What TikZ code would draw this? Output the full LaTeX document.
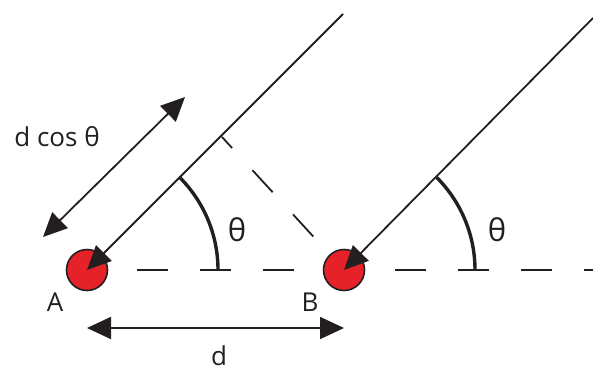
\documentclass[tikz,border=0pt]{standalone}
\usepackage{fontspec}
\setmainfont{Open Sans}
\usetikzlibrary{arrows.meta}
\definecolor{dotred}{HTML}{E52228}
\definecolor{ink}{HTML}{231F20}
\begin{document}
\begin{tikzpicture}[x=1pt,y=1pt,
  thinline/.style={line width=1.8pt, draw=ink},
  tipend/.style={thinline, -{Triangle[length=24pt,width=22pt]}},
  twotips/.style={thinline, {Triangle[length=24pt,width=22pt]}-{Triangle[length=24pt,width=22pt]}},
  source/.style={circle, draw=ink, line width=1.6pt, fill=dotred, minimum size=41pt, inner sep=0pt},
  lab/.style={font=\fontsize{26}{26}\selectfont, inner sep=0pt, text=ink},
  anglab/.style={font=\fontsize{31}{31}\selectfont, inner sep=0pt, text=ink},
  angarc/.style={line width=3.4pt, draw=ink},
  dsh/.style={thinline, dash pattern=on 31pt off 32pt}
]
\useasboundingbox (0,0) rectangle (593,365);
% sources
\node[source] (A) at (87,95) {};
\node[source] (B) at (344,95) {};
% free ends
\coordinate (TA) at (343,351);
\coordinate (TB) at (593,347);
\coordinate (F) at (222,228);
\coordinate (R) at (593,95);
\coordinate (P1) at (43,128);
\coordinate (P2) at (185,268);
\coordinate (D1) at (87,37);
\coordinate (D2) at (344,37);
% dashed lines
\draw[dsh, dash phase=34pt] (A) -- (B);
\draw[dsh, dash phase=33pt] (B) -- (R);
\draw[thinline, dash pattern=on 30pt off 30pt, dash phase=15pt] (F) -- (B);
% rays
\draw[tipend] (TA) -- (A.center);
\draw[tipend] (TB) -- (B.center);
% angle arcs
\draw[angarc] (A.center) ++(0:131) arc[start angle=0, end angle=45, radius=131];
\draw[angarc] (B.center) ++(0:131) arc[start angle=0, end angle=45, radius=131];
% dimension arrows
\draw[twotips] (P1) -- (P2);
\draw[twotips] (D1) -- (D2);
% labels
\node[lab] (dc) at (57,228) {d cos θ};
\node[anglab] (t1) at (237,135) {θ};
\node[anglab] (t2) at (497,135) {θ};
\node[lab] (la) at (55,63) {A};
\node[lab] (lb) at (310,63) {B};
\node[lab, anchor=base] (ld) at (219,0) {d};
\end{tikzpicture}
\end{document}
